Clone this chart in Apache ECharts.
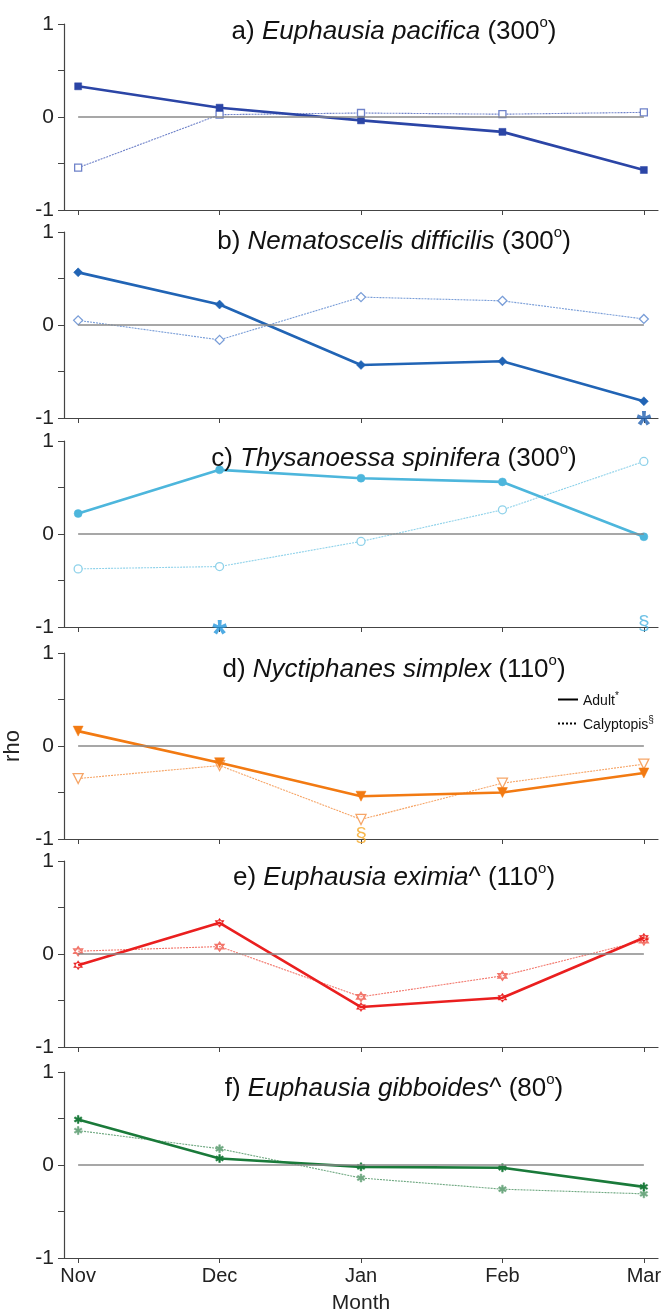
<!DOCTYPE html>
<html>
<head>
<meta charset="utf-8">
<script src="https://cdn.jsdelivr.net/npm/echarts@6/dist/echarts.min.js"></script>
<style>
html,body{margin:0;padding:0;background:#fff;}
#chart{width:669px;height:1313px;}
</style>
</head>
<body>
<div id="chart"></div>
<script>
// ---- data ----
const months = ['Nov', 'Dec', 'Jan', 'Feb', 'Mar'];
const panelLetters = ['a)', 'b)', 'c)', 'd)', 'e)', 'f)'];
const species = ['Euphausia pacifica', 'Nematoscelis difficilis', 'Thysanoessa spinifera', 'Nyctiphanes simplex', 'Euphausia eximia', 'Euphausia gibboides'];
const speciesSuffix = ['', '', '', '', '^', '^'];
const degrees = ['300', '300', '300', '110', '110', '80'];
const yTicks = [-1, 0, 1];

const adultA = [0.33, 0.10, -0.036, -0.16, -0.57];
const calypA = [-0.545, 0.025, 0.043, 0.03, 0.05];
const adultB = [0.566, 0.22, -0.43, -0.39, -0.82];
const calypB = [0.05, -0.16, 0.30, 0.26, 0.065];
const adultC = [0.22, 0.69, 0.60, 0.56, -0.03];
const calypC = [-0.375, -0.35, -0.08, 0.26, 0.78];
const adultD = [0.16, -0.18, -0.54, -0.50, -0.29];
const calypD = [-0.35, -0.21, -0.79, -0.40, -0.195];
const adultE = [-0.12, 0.335, -0.57, -0.47, 0.175];
const calypE = [0.03, 0.08, -0.46, -0.235, 0.145];
const adultF = [0.49, 0.07, -0.02, -0.03, -0.235];
const calypF = [0.37, 0.175, -0.14, -0.26, -0.31];

// significance markers: [panelIndex, monthIndex, symbol]
const sigMarks = [
  [1, 4, '*'],
  [2, 1, '*'],
  [2, 4, '§'],
  [3, 2, '§']
];

// ---- styling ----
const adults = [adultA, adultB, adultC, adultD, adultE, adultF];
const calyps = [calypA, calypB, calypC, calypD, calypE, calypF];
const adultColors = ['#2b45a6', '#2164b5', '#4db6dc', '#f27a12', '#ea1f1f', '#1a7a3a'];
const calypColors = ['#6f82c9', '#7a9ed8', '#8fd2ea', '#f6a567', '#f2766b', '#6fa881'];
const sigColors = {'1-4': '#1f5fb0', '2-1': '#2496dc', '2-4': '#48b2e0', '3-2': '#f5a623'};
const asterisk = 'path://M-1,5 L1,5 L1,-5 L-1,-5 Z M3.83,3.37 L4.83,1.63 L-3.83,-3.37 L-4.83,-1.63 Z M-4.83,1.63 L-3.83,3.37 L4.83,-1.63 L3.83,-3.37 Z';
const hexagram = 'path://M0,-5 L4.33,2.5 L-4.33,2.5 Z M0,5 L4.33,-2.5 L-4.33,-2.5 Z';
const symbols = [
  {s: 'rect', size: 7, rot: 0},
  {s: 'diamond', size: 9, rot: 0},
  {s: 'circle', size: 8, rot: 0},
  {s: 'triangle', size: 10, rot: 180},
  {s: hexagram, size: 9, rot: 0},
  {s: asterisk, size: 8, rot: 0}
];
const tops = [24, 232, 441, 653, 861, 1072];
const titleCenters = [25, 235, 452, 663, 871, 1082];
const H = 186;
const FONT = '"Liberation Sans", Arial, sans-serif';

const grids = [], xAxes = [], yAxes = [], series = [], titles = [];

for (let i = 0; i < 6; i++) {
  grids.push({left: 64, right: 11, top: tops[i], height: H, containLabel: false, outerBoundsMode: 'none'});
  xAxes.push({
    type: 'value', gridIndex: i, min: -0.1, max: 4.1,
    axisLine: {show: true, onZero: false, lineStyle: {color: '#444', width: 1.2}},
    axisTick: {show: true, length: 5, customValues: [0, 1, 2, 3, 4], lineStyle: {color: '#444'}},
    axisLabel: {show: i === 5, customValues: [0, 1, 2, 3, 4], formatter: v => months[Math.round(v)] || '',
      fontFamily: FONT, fontSize: 20, color: '#222', margin: 8},
    splitLine: {show: false},
    name: i === 5 ? 'Month' : '', nameLocation: 'middle', nameGap: 35,
    nameTextStyle: {fontFamily: FONT, fontSize: 21, color: '#222'}
  });
  yAxes.push({
    type: 'value', gridIndex: i, min: -1, max: 1, interval: 0.5,
    axisLine: {show: true, onZero: false, lineStyle: {color: '#444', width: 1.2}},
    axisTick: {show: true, length: 6, lineStyle: {color: '#444'}},
    axisLabel: {formatter: v => (yTicks.indexOf(v) >= 0 ? String(v) : ''), fontFamily: FONT, fontSize: 21, color: '#222', margin: 10},
    splitLine: {show: false},
    name: i === 3 ? 'rho' : '', nameLocation: 'middle', nameGap: 33, nameRotate: 90,
    nameTextStyle: {fontFamily: FONT, fontSize: 22, color: '#222'}
  });
  titles.push({
    text: '{n|' + panelLetters[i] + ' }{i|' + species[i] + '}{n|' + speciesSuffix[i] + ' (' + degrees[i] + '}{s|o}{n|)}',
    left: 389, top: titleCenters[i] - 15, textAlign: 'center',
    textStyle: {
      fontWeight: 'normal',
      rich: {
        n: {fontFamily: FONT, fontSize: 26, fontWeight: 'normal', color: '#111', lineHeight: 30, verticalAlign: 'bottom'},
        i: {fontFamily: FONT, fontSize: 26, fontWeight: 'normal', fontStyle: 'italic', color: '#111', lineHeight: 30, verticalAlign: 'bottom'},
        s: {fontFamily: FONT, fontSize: 15, fontWeight: 'normal', color: '#111', lineHeight: 30, verticalAlign: 'top'}
      }
    }
  });
  const sym = symbols[i];
  series.push({
    type: 'line', name: 'adult' + i, xAxisIndex: i, yAxisIndex: i,
    data: adults[i].map((v, k) => [k, v]),
    symbol: sym.s, symbolSize: sym.size, symbolRotate: sym.rot, showSymbol: true,
    lineStyle: {color: adultColors[i], width: 2.6},
    itemStyle: {color: adultColors[i], borderColor: adultColors[i], borderWidth: 0.5},
    z: 4, animation: false, silent: true,
    markLine: {
      silent: true, symbol: 'none', label: {show: false}, animation: false,
      lineStyle: {color: '#8a8a8a', width: 1.5, type: 'solid'},
      data: [[{coord: [0, 0]}, {coord: [4, 0]}]]
    }
  });
  series.push({
    type: 'line', name: 'calyp' + i, xAxisIndex: i, yAxisIndex: i,
    data: calyps[i].map((v, k) => [k, v]),
    symbol: sym.s, symbolSize: sym.size, symbolRotate: sym.rot, showSymbol: true,
    lineStyle: {color: calypColors[i], width: 1.1, type: [2, 1]},
    itemStyle: i === 5 ? {color: calypColors[i], borderColor: calypColors[i], borderWidth: 0.5}
                       : {color: '#ffffff', borderColor: calypColors[i], borderWidth: 1.3},
    z: 3, animation: false, silent: true
  });
}

// significance markers
sigMarks.forEach(m => {
  const [p, k, t] = m;
  const isStar = t === '*';
  series.push({
    type: 'scatter', xAxisIndex: p, yAxisIndex: p, data: [[k, -1]],
    symbol: 'circle', symbolSize: 1, itemStyle: {color: 'rgba(0,0,0,0)'},
    clip: false, z: 6, animation: false, silent: true,
    label: {show: true, position: 'inside', formatter: t,
      fontFamily: FONT, fontWeight: isStar ? 'bold' : 'normal',
      fontSize: isStar ? 38 : 21, color: sigColors[p + '-' + k],
      offset: isStar ? [0, 10] : [0, -3]}
  });
});

// legend dummy series (line styles only)
series.push({type: 'line', name: 'Adult', xAxisIndex: 3, yAxisIndex: 3, data: [], symbol: 'none',
  lineStyle: {color: '#000', width: 2}, itemStyle: {color: '#000'}});
series.push({type: 'line', name: 'Calyptopis', xAxisIndex: 3, yAxisIndex: 3, data: [], symbol: 'none',
  lineStyle: {color: '#000', width: 1, type: [2, 2]}, itemStyle: {color: '#000'}});

const solidIcon = 'path://M0,0 L20,0 L20,2 L0,2 Z';
const dotIcon = 'path://M0,0 h2 v2 h-2 Z M4,0 h2 v2 h-2 Z M8,0 h2 v2 h-2 Z M12,0 h2 v2 h-2 Z M16,0 h2 v2 h-2 Z M20,0 h0.01 v2 h-0.01 Z';

const chart = echarts.init(document.getElementById('chart'), null, {renderer: 'canvas'});
chart.setOption({
  backgroundColor: '#fff',
  animation: false,
  title: titles,
  grid: grids,
  xAxis: xAxes,
  yAxis: yAxes,
  legend: {
    data: [{name: 'Adult', icon: solidIcon}, {name: 'Calyptopis', icon: dotIcon}],
    orient: 'vertical', left: 553, top: 686,
    itemWidth: 20, itemHeight: 2, itemGap: 7, selectedMode: false,
    itemStyle: {color: '#000', borderWidth: 0},
    formatter: n => n === 'Adult' ? '{t|Adult}{s|*}' : '{t|Calyptopis}{s|§}',
    textStyle: {
      rich: {
        t: {fontFamily: FONT, fontSize: 14, color: '#111', lineHeight: 17, verticalAlign: 'bottom'},
        s: {fontFamily: FONT, fontSize: 10, color: '#111', lineHeight: 17, verticalAlign: 'top'}
      }
    }
  },
  series: series
});
</script>
</body>
</html>
